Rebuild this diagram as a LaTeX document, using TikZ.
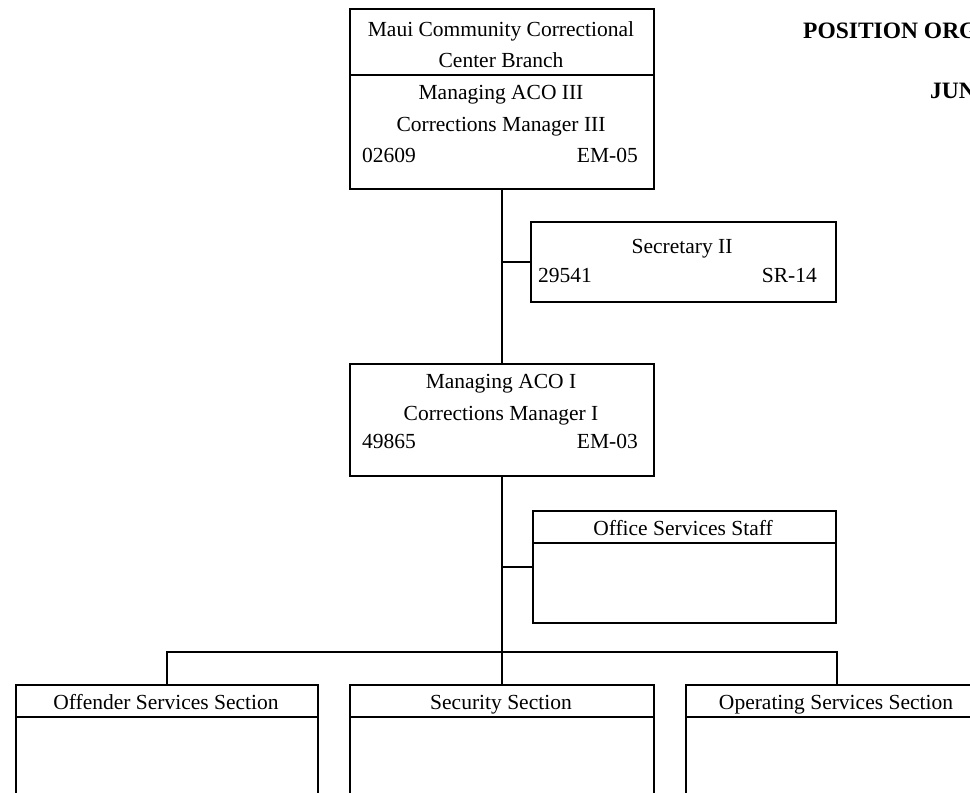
\documentclass[tikz,border=0pt]{standalone}
\usepackage{fontspec}
\setmainfont{Liberation Serif}
\begin{document}
\begin{tikzpicture}[x=1pt,y=-1pt,
  box/.style={draw,line width=2pt,rectangle,inner sep=0pt,anchor=north west},
  txt/.style={inner sep=0pt,anchor=base,font=\fontsize{21.5}{25}\selectfont},
  txtl/.style={txt,anchor=base west},
  txtr/.style={txt,anchor=base east},
  ttl/.style={inner sep=0pt,anchor=base west,font=\fontsize{23.5}{27}\selectfont\bfseries},
  conn/.style={line width=2pt},
  divider/.style={line width=2pt}]
\clip (0,0) rectangle (970,793);
\fill[white] (0,0) rectangle (970,793);

% boxes
\node[box,minimum width=304pt,minimum height=180pt] (top) at (349,8) {};
\node[box,minimum width=305pt,minimum height=80pt] (sec) at (530,221) {};
\node[box,minimum width=304pt,minimum height=112pt] (aco) at (349,363) {};
\node[box,minimum width=303pt,minimum height=112pt] (off) at (532,510) {};
\node[box,minimum width=302pt,minimum height=130pt] (s1) at (15,684) {};
\node[box,minimum width=304pt,minimum height=130pt] (s2) at (349,684) {};
\node[box,minimum width=302pt,minimum height=130pt] (s3) at (685,684) {};

% dividers
\draw[divider] (top.west |- 0,75) -- (top.east |- 0,75);
\draw[divider] (off.west |- 0,543) -- (off.east |- 0,543);
\draw[divider] (s1.west |- 0,717) -- (s1.east |- 0,717);
\draw[divider] (s2.west |- 0,717) -- (s2.east |- 0,717);
\draw[divider] (s3.west |- 0,717) -- (s3.east |- 0,717);

% texts
\node[txt] (t1) at (501,36.5) {Maui Community Correctional};
\node[txt] (t2) at (501,67.5) {Center Branch};
\node[txt] (t3) at (501,99.5) {Managing ACO III};
\node[txt] (t4) at (501,131.5) {Corrections Manager III};
\node[txtl] (t5) at (362,162) {02609};
\node[txtr] (t6) at (638,162) {EM-05};

\node[txt] (u1) at (682,253) {Secretary II};
\node[txtl] (u2) at (538,282) {29541};
\node[txtr] (u3) at (817,282) {SR-14};

\node[txt] (v1) at (501,388) {Managing ACO I};
\node[txt] (v2) at (501,420) {Corrections Manager I};
\node[txtl] (v3) at (362,448) {49865};
\node[txtr] (v4) at (638,448) {EM-03};

\node[txt] (w1) at (683,535) {Office Services Staff};

\node[txt] (x1) at (166,709) {Offender Services Section};
\node[txt] (x2) at (501,709) {Security Section};
\node[txt] (x3) at (836,709) {Operating Services Section};

\node[ttl] (title) at (803,38) {POSITION ORG};
\node[ttl] (date) at (930,98) {JUN};

% connectors
\draw[conn] (top.south) -- (aco.north);
\draw[conn] (top.south |- sec.west) -- (sec.west);
\draw[conn] (aco.south |- off.west) -- (off.west);
\coordinate (bar) at (aco.south |- 0,652);
\draw[conn] (aco.south) -- (s2.north);
\draw[conn] (s1.north) |- (bar) -| (s3.north);
\end{tikzpicture}
\end{document}
